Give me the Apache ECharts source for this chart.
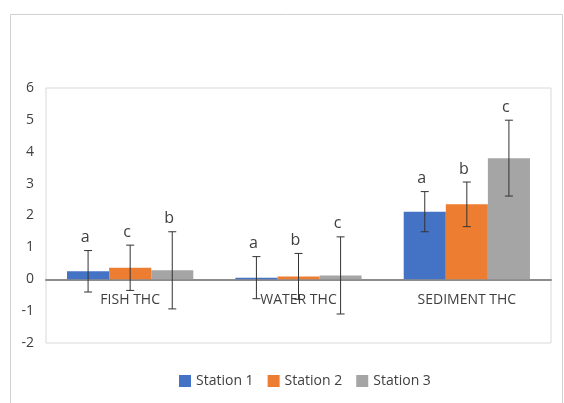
<!DOCTYPE html>
<html><head><meta charset="utf-8">
<script src="https://cdn.jsdelivr.net/npm/echarts@6/dist/echarts.min.js"></script>
<style>html,body{margin:0;padding:0;background:#fff}#c{width:564px;height:403px}</style>
</head><body><div id="c"></div>
<script>
var categories = ['FISH THC', 'WATER THC', 'SEDIMENT THC'];
var seriesNames = ['Station 1', 'Station 2', 'Station 3'];
var station1 = [0.25, 0.05, 2.12];
var station2 = [0.36, 0.09, 2.35];
var station3 = [0.28, 0.12, 3.80];
var err1 = [0.65, 0.66, 0.63];
var err2 = [0.71, 0.72, 0.70];
var err3 = [1.21, 1.21, 1.19];
var letters1 = ['a', 'a', 'a'];
var letters2 = ['c', 'b', 'b'];
var letters3 = ['b', 'c', 'c'];
var yTicks = [-2, -1, 0, 1, 2, 3, 4, 5, 6];

var colors = ['#4472C4', '#ED7D31', '#A5A5A5'];
var values = [station1, station2, station3];
var errs = [err1, err2, err3];
var letters = [letters1, letters2, letters3];
var FONT = "'Open Sans', 'Liberation Sans', sans-serif";
var catGapRatio = 0.25;

var series = [];
values.forEach(function (vals, si) {
  series.push({
    name: seriesNames[si], type: 'bar', data: vals,
    itemStyle: { color: colors[si] },
    barGap: '0%', barCategoryGap: '25%', z: 2
  });
});
values.forEach(function (vals, si) {
  series.push({
    type: 'custom', z: 5, silent: true,
    data: vals.map(function (v, i) { return [i, v - errs[si][i], v + errs[si][i]]; }),
    renderItem: function (params, api) {
      var idx = api.value(0);
      var catW = api.size([1, 0])[0];
      var bw = catW * (1 - catGapRatio) / 3;
      var cx = api.coord([idx, 0])[0] + (si - 1) * bw;
      var lo = api.coord([idx, api.value(1)])[1];
      var hi = api.coord([idx, api.value(2)])[1];
      var cap = 4;
      var st = { stroke: '#333', lineWidth: 1 };
      var lbl = letters[si][params.dataIndex];
      return { type: 'group', children: [
        { type: 'line', shape: { x1: cx, y1: lo, x2: cx, y2: hi }, style: st },
        { type: 'line', shape: { x1: cx - cap, y1: lo, x2: cx + cap, y2: lo }, style: st },
        { type: 'line', shape: { x1: cx - cap, y1: hi, x2: cx + cap, y2: hi }, style: st },
        { type: 'text', style: { text: lbl, x: cx - 3, y: hi - 5, textAlign: 'center', textVerticalAlign: 'bottom', fill: '#404040', font: '16px ' + FONT } }
      ]};
    }
  });
});
// category labels drawn at the zero line
series.push({
  type: 'custom', z: 4, silent: true,
  data: categories.map(function (c, i) { return [i, 0]; }),
  renderItem: function (params, api) {
    var p = api.coord([api.value(0), 0]);
    return { type: 'text', style: { text: categories[params.dataIndex], x: p[0], y: p[1] + 21, textAlign: 'center', textVerticalAlign: 'middle', fill: '#404040', font: '14px ' + FONT } };
  }
});

var chart = echarts.init(document.getElementById('c'));
chart.setOption({
  animation: false,
  textStyle: { fontFamily: FONT },
  graphic: [{ type: 'rect', shape: { x: 10.5, y: 14.5, width: 552, height: 400 }, style: { fill: 'none', stroke: '#d0d0d0', lineWidth: 1 }, silent: true }],
  legend: {
    data: seriesNames, bottom: 10, left: 174, itemWidth: 12, itemHeight: 12, itemGap: 14,
    icon: 'rect', textStyle: { fontSize: 14, color: '#404040', fontFamily: FONT }
  },
  grid: { left: 46, right: 13, top: 88, bottom: 60, show: true, borderColor: '#d9d9d9', borderWidth: 1 },
  xAxis: {
    type: 'category', data: categories,
    axisLine: { onZero: true, lineStyle: { color: '#8c8c8c', width: 2 } },
    axisTick: { show: false },
    axisLabel: { show: false }
  },
  yAxis: {
    type: 'value', min: yTicks[0], max: yTicks[yTicks.length - 1], interval: 1,
    splitLine: { show: false }, axisLine: { show: false }, axisTick: { show: false },
    axisLabel: { color: '#404040', fontSize: 14, margin: 12 }
  },
  series: series
});
</script></body></html>
